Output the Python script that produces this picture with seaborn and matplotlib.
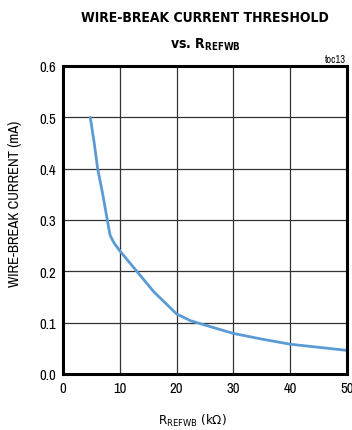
import matplotlib
matplotlib.use("Agg")
import matplotlib.pyplot as plt
import seaborn as sns
import pandas as pd

r_kohm = [4.8, 5.5, 6.1, 7.0, 7.8, 8.3, 9.0, 10.0, 13.0, 16.0, 20.0, 22.4, 26.0, 30.0, 35.0, 40.0, 45.0, 50.0]
current_ma = [0.50, 0.45, 0.40, 0.35, 0.30, 0.27, 0.255, 0.24, 0.20, 0.16, 0.117, 0.104, 0.092, 0.079, 0.068, 0.058, 0.052, 0.046]
x_ticks = [0, 10, 20, 30, 40, 50]
y_ticks = [0.0, 0.1, 0.2, 0.3, 0.4, 0.5, 0.6]

sns.set_style("white")
plt.rcParams['font.family'] = ['Archivo Narrow', 'DejaVu Sans']
plt.rcParams['text.color'] = 'black'
plt.rcParams['axes.labelcolor'] = 'black'
plt.rcParams['mathtext.fontset'] = 'custom'
plt.rcParams['mathtext.rm'] = 'Archivo Narrow'

df = pd.DataFrame({"R": r_kohm, "I": current_ma})

fig = plt.figure(figsize=(3.52, 4.31), dpi=100)
ax = fig.add_axes([63/352, 1-375/431, (347-63)/352, (375-67)/431])
sns.lineplot(data=df, x="R", y="I", ax=ax, color="#5b9bd5", linewidth=2.0, sort=False)

ax.set_xlim(0, 50)
ax.set_ylim(0, 0.6)
ax.set_xticks(x_ticks)
ax.set_yticks(y_ticks)
ax.set_xticklabels([str(t) for t in x_ticks])
ax.set_yticklabels([f"{t:.1f}" for t in y_ticks])
ax.grid(True, color="#333333", linewidth=0.9)
ax.set_axisbelow(True)
for s in ax.spines.values():
    s.set_color("black")
    s.set_linewidth(2.2)
ax.tick_params(axis='both', length=0, labelsize=10.5, pad=5, colors="black")

label_font = dict(family='DejaVu Sans', stretch='condensed', fontsize=9.5)
ax.set_xlabel(r"R$_{\mathregular{REFWB}}$ (kΩ)", **label_font)
ax.xaxis.set_label_coords((192-63)/284, -(421-375)/308)
ax.xaxis.label.set_va("center")
ax.set_ylabel("WIRE-BREAK CURRENT (mA)", fontsize=10.5)
ax.yaxis.set_label_coords((15-63)/284, (375-204)/308)
ax.yaxis.label.set_va("center")

title_font = dict(family='DejaVu Sans', stretch='condensed', fontweight='bold', fontsize=10)
fig.text(205/352, 1-18/431, "WIRE-BREAK CURRENT THRESHOLD", ha="center", va="center", **title_font)
fig.text(205/352, 1-45/431, r"vs. R$_{\mathregular{REFWB}}$", ha="center", va="center", **title_font)
fig.text(346/352, 1-60/431, "toc13", ha="right", va="center", fontsize=7.5)

fig.savefig("out.png", dpi=100)
